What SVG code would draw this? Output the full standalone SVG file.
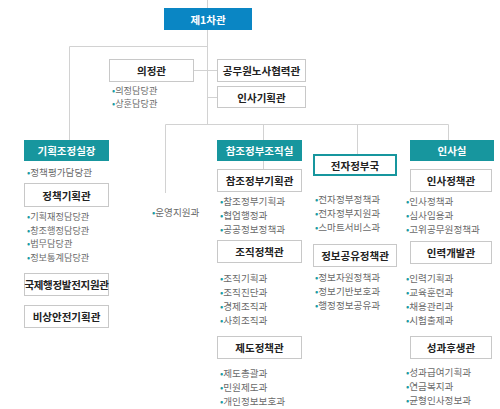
<svg xmlns="http://www.w3.org/2000/svg" width="500" height="409" viewBox="0 0 500 409">
<style>
text{font-family:"Noto Sans CJK KR","Noto Sans",sans-serif;dominant-baseline:central}
.box{fill:#fff;stroke:#c8c8c8;stroke-width:1}
.t{font-size:10.5px;font-weight:bold;fill:#222;text-anchor:middle}
.h{font-size:10.5px;font-weight:bold;fill:#fff;text-anchor:middle}
.teal{fill:#17969e}
.i{font-size:9.6px;fill:#6a6a6a}
.s{font-size:9.2px}
.b{fill:#1a9aa2}
.ln{stroke:#d2d2d2;stroke-width:1;fill:none}
</style>
<rect width="500" height="409" fill="#fff"/>
<g id="connectors">
<path class="ln" d="M207.5 0V124.5M69.5 46.5H207.5M69.5 46.5V140M194 70.5H217M207.5 97.5H217M165.5 124.5H448.5M165.5 124.5V193M263.5 124.5V140M263.5 161V169M357.5 124.5V154M448.5 124.5V140"/>
</g>
<g id="n1">
<rect x="164" y="8" width="88" height="22" fill="#0a86c4"/>
<text class="h" x="208" y="19.5" font-size="12">제1차관</text>
</g>
<g id="n-uijeong">
<rect class="box" x="109.5" y="59.5" width="84" height="22"/>
<text class="t" x="151.5" y="70.5">의정관</text>
<text class="i s" x="112" y="89.5"><tspan class="b">•</tspan>의정담당관</text>
<text class="i s" x="112" y="103"><tspan class="b">•</tspan>상훈담당관</text>
</g>
<g id="n-gongmu">
<rect class="box" x="217.5" y="59.5" width="88" height="22"/>
<text class="t" x="261.5" y="70.5">공무원노사협력관</text>
</g>
<g id="n-insagihoek">
<rect class="box" x="217.5" y="86.5" width="88" height="21"/>
<text class="t" x="261.5" y="97">인사기획관</text>
</g>
<g id="n-gihoek">
<rect class="teal" x="24" y="140" width="85" height="21"/>
<text class="h" x="66.5" y="150.5">기획조정실장</text>
<text class="i" x="27" y="172"><tspan class="b">•</tspan>정책평가담당관</text>
</g>
<g id="n-jeongchaek">
<rect class="box" x="24.5" y="183.5" width="84" height="23"/>
<text class="t" x="66.5" y="195">정책기획관</text>
<text class="i s" x="27" y="216"><tspan class="b">•</tspan>기획재정담당관</text>
<text class="i s" x="27" y="229.5"><tspan class="b">•</tspan>창조행정담당관</text>
<text class="i s" x="27" y="243"><tspan class="b">•</tspan>법무담당관</text>
<text class="i s" x="27" y="256.5"><tspan class="b">•</tspan>정보통계담당관</text>
</g>
<g id="n-gukje">
<rect class="box" x="24.5" y="273.5" width="84" height="22"/>
<text class="t" x="66.5" y="284.5" font-size="9.6" letter-spacing="-0.3">국제행정발전지원관</text>
</g>
<g id="n-bisang">
<rect class="box" x="24.5" y="305.5" width="84" height="22"/>
<text class="t" x="66.5" y="316.5">비상안전기획관</text>
</g>
<g id="n-unyeong">
<text class="i" x="152" y="212"><tspan class="b">•</tspan>운영지원과</text>
</g>
<g id="n-changjo">
<rect class="teal" x="217" y="140" width="85" height="21"/>
<text class="h" x="259.5" y="150.5">참조정부조직실</text>
</g>
<g id="n-changjogihoek">
<rect class="box" x="217.5" y="169.5" width="84" height="22"/>
<text class="t" x="259.5" y="180.5">참조정부기획관</text>
<text class="i" x="220" y="201"><tspan class="b">•</tspan>참조정부기획과</text>
<text class="i" x="220" y="215"><tspan class="b">•</tspan>협업행정과</text>
<text class="i" x="220" y="229"><tspan class="b">•</tspan>공공정보정책과</text>
</g>
<g id="n-jojik">
<rect class="box" x="217.5" y="240.5" width="84" height="22"/>
<text class="t" x="259.5" y="251.5">조직정책관</text>
<text class="i" x="220" y="278"><tspan class="b">•</tspan>조직기획과</text>
<text class="i" x="220" y="292"><tspan class="b">•</tspan>조직진단과</text>
<text class="i" x="220" y="306"><tspan class="b">•</tspan>경제조직과</text>
<text class="i" x="220" y="320"><tspan class="b">•</tspan>사회조직과</text>
</g>
<g id="n-jedo">
<rect class="box" x="217.5" y="336.5" width="84" height="22"/>
<text class="t" x="259.5" y="347.5">제도정책관</text>
<text class="i" x="220" y="373"><tspan class="b">•</tspan>제도총괄과</text>
<text class="i" x="220" y="387"><tspan class="b">•</tspan>민원제도과</text>
<text class="i" x="220" y="401"><tspan class="b">•</tspan>개인정보보호과</text>
</g>
<g id="n-jeonja">
<rect x="314" y="155" width="82" height="20" fill="#fff" stroke="#17969e" stroke-width="2"/>
<text class="t" x="355" y="165">전자정부국</text>
<text class="i" x="315" y="199"><tspan class="b">•</tspan>전자정부정책과</text>
<text class="i" x="315" y="213"><tspan class="b">•</tspan>전자정부지원과</text>
<text class="i" x="315" y="227"><tspan class="b">•</tspan>스마트서비스과</text>
</g>
<g id="n-jeongbo">
<rect class="box" x="313.5" y="244.5" width="83" height="22"/>
<text class="t" x="355" y="255.5">정보공유정책관</text>
<text class="i" x="315" y="277"><tspan class="b">•</tspan>정보자원정책과</text>
<text class="i" x="315" y="291"><tspan class="b">•</tspan>정보기반보호과</text>
<text class="i" x="315" y="305"><tspan class="b">•</tspan>행정정보공유과</text>
</g>
<g id="n-insasil">
<rect class="teal" x="410" y="140" width="84" height="21"/>
<text class="h" x="452" y="150.5">인사실</text>
</g>
<g id="n-insajeongchaek">
<rect class="box" x="410.5" y="169.5" width="81" height="22"/>
<text class="t" x="451" y="180.5">인사정책관</text>
<text class="i" x="406" y="201"><tspan class="b">•</tspan>인사정책과</text>
<text class="i" x="406" y="215"><tspan class="b">•</tspan>심사임용과</text>
<text class="i" x="406" y="229"><tspan class="b">•</tspan>고위공무원정책과</text>
</g>
<g id="n-inryeok">
<rect class="box" x="410.5" y="241.5" width="81" height="22"/>
<text class="t" x="451" y="252.5">인력개발관</text>
<text class="i" x="406" y="278"><tspan class="b">•</tspan>인력기획과</text>
<text class="i" x="406" y="292"><tspan class="b">•</tspan>교육훈련과</text>
<text class="i" x="406" y="306"><tspan class="b">•</tspan>채용관리과</text>
<text class="i" x="406" y="320"><tspan class="b">•</tspan>시험출제과</text>
</g>
<g id="n-seonggwa">
<rect class="box" x="410.5" y="336.5" width="81" height="22"/>
<text class="t" x="451" y="347.5">성과후생관</text>
<text class="i" x="406" y="372"><tspan class="b">•</tspan>성과급여기획과</text>
<text class="i" x="406" y="386"><tspan class="b">•</tspan>연금복지과</text>
<text class="i" x="406" y="400"><tspan class="b">•</tspan>균형인사정보과</text>
</g>
</svg>
